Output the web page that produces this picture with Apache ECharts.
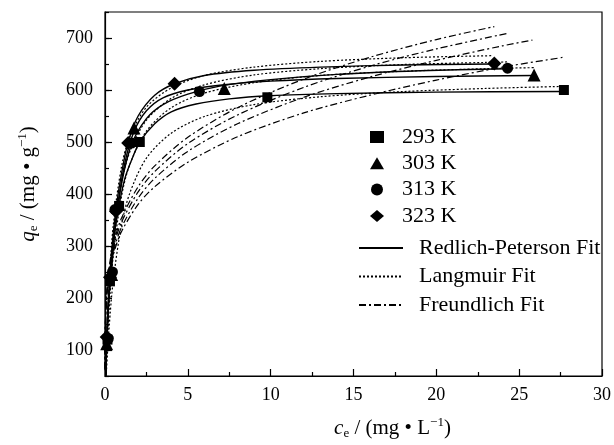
<!DOCTYPE html>
<html lang="en">
<head>
    <meta charset="UTF-8">
    <title>qe vs ce isotherms</title>
    <script src="https://cdn.jsdelivr.net/npm/echarts@6/dist/echarts.min.js"></script>
    <style>
        html, body { margin: 0; padding: 0; background: #fff; }
        #chart { width: 614px; height: 445px; }
    </style>
</head>
<body>
<div id="chart"></div>
<script>
    'use strict';
    // experimental points [ce, qe]
    let pts293 = [[0.15, 120], [0.3, 232], [0.85, 377], [2.1, 500], [9.8, 586], [27.7, 600]];
    let pts303 = [[0.1, 112], [0.4, 245], [0.8, 380], [1.75, 527], [7.2, 603], [25.9, 629]];
    let pts313 = [[0.2, 122], [0.45, 250], [0.6, 370], [1.6, 498], [5.7, 597], [24.3, 642]];
    let pts323 = [[0.1, 125], [0.3, 240], [0.66, 367], [1.4, 498], [4.2, 612], [23.5, 651]];

    // Redlich-Peterson fit curves
    let rp293 = [[0.04, 45], [0.1, 105], [0.2, 175], [0.3, 230], [0.5, 305], [0.8, 370], [1.2, 430], [1.6, 465], [2.1, 500], [3, 535], [4, 558], [5.5, 573], [7.5, 583], [10, 589], [14, 593], [20, 596], [27.7, 597]];
    let rp303 = [[0.04, 48], [0.1, 110], [0.2, 185], [0.35, 250], [0.5, 310], [0.8, 385], [1.2, 460], [1.75, 520], [2.5, 560], [3.5, 585], [5, 600], [7.2, 610], [10, 617], [14, 622], [20, 626], [25.9, 628]];
    let rp313 = [[0.04, 48], [0.1, 112], [0.2, 190], [0.4, 255], [0.6, 330], [1, 420], [1.6, 495], [2.5, 545], [3.5, 572], [5, 592], [7, 608], [10, 620], [14, 630], [19, 637], [24.3, 641]];
    let rp323 = [[0.04, 50], [0.1, 115], [0.2, 195], [0.4, 290], [0.66, 370], [1, 440], [1.4, 500], [2, 550], [3, 590], [4.2, 612], [6, 628], [9, 638], [13, 644], [18, 648], [23.4, 650]];

    // Langmuir fit curves
    let lang293 = [[0.08, 55], [0.1, 67], [0.25, 144], [0.5, 234], [1, 341], [1.5, 402], [2.5, 469], [4, 517], [6, 549], [9, 572], [13, 587], [18, 597], [23, 603], [27.7, 607]];
    let lang303 = [[0.06, 54], [0.1, 86], [0.25, 180], [0.5, 283], [1, 396], [1.5, 457], [2.5, 521], [4, 566], [6, 594], [9, 614], [13, 628], [18, 636], [23, 641], [25.9, 643]];
    let lang313 = [[0.05, 52], [0.1, 97], [0.25, 200], [0.5, 308], [1, 422], [1.5, 481], [2.5, 542], [4, 584], [6, 610], [9, 629], [13, 641], [18, 649], [23, 653], [24.3, 654]];
    let lang323 = [[0.04, 50], [0.1, 113], [0.25, 227], [0.5, 340], [1, 453], [1.5, 510], [2.5, 567], [4, 604], [6, 628], [9, 644], [13, 655], [18, 662], [23.4, 666]];

    // Freundlich fit curves
    let fr293 = [[0.0005, 65], [0.005, 107], [0.02, 143], [0.1, 201], [0.3, 254], [0.6, 294], [1, 328], [2, 380], [3, 414], [5, 461], [8, 510], [12, 556], [16, 590], [20, 619], [24, 644], [27.7, 663]];
    let fr303 = [[0.0005, 61], [0.005, 102], [0.02, 140], [0.1, 201], [0.3, 256], [0.6, 300], [1, 336], [2, 392], [3, 430], [5, 482], [8, 535], [12, 586], [16, 625], [20, 657], [24, 685], [25.8, 696]];
    let fr313 = [[0.0005, 63], [0.005, 105], [0.02, 144], [0.1, 206], [0.3, 264], [0.6, 308], [1, 346], [2, 404], [3, 443], [5, 497], [8, 552], [12, 605], [16, 646], [20, 679], [24.3, 709]];
    let fr323 = [[0.0005, 64], [0.005, 107], [0.02, 146], [0.1, 210], [0.3, 270], [0.6, 315], [1, 354], [2, 414], [3, 454], [5, 509], [8, 566], [12, 621], [16, 663], [20, 697], [23.5, 722]];

    let pointNames = ['293 K', '303 K', '313 K', '323 K'];
    let pointSets = [pts293, pts303, pts313, pts323];
    let pointSymbols = ['rect', 'triangle', 'circle', 'diamond'];
    let pointSizes = [10, 13, 11, 14];

    let fitNames = ['Redlich-Peterson Fit', 'Langmuir Fit', 'Freundlich Fit'];
    let fitSets = [[rp293, rp303, rp313, rp323], [lang293, lang303, lang313, lang323], [fr293, fr303, fr313, fr323]];
    let fitDash = ['solid', [2, 2], [7, 3, 2, 3]];
    let fitWidth = [1.4, 1.2, 1.2];

    const FONT = 'Liberation Serif';

    let series = [];
    for (let k = 0; k < fitSets.length; k++) {
        for (let j = 0; j < fitSets[k].length; j++) {
            series.push({
                name: fitNames[k],
                type: 'line',
                data: fitSets[k][j],
                smooth: 0.3,
                showSymbol: false,
                symbol: 'none',
                clip: true,
                lineStyle: {color: '#000', width: fitWidth[k], type: fitDash[k]},
                itemStyle: {color: '#000'},
                z: 2
            });
        }
    }
    for (let i = 0; i < pointSets.length; i++) {
        series.push({
            name: pointNames[i],
            type: 'scatter',
            data: pointSets[i],
            symbol: pointSymbols[i],
            symbolSize: pointSizes[i],
            itemStyle: {color: '#000', opacity: 1},
            z: 5
        });
    }

    let richName = {
        i: {fontFamily: FONT, fontSize: 21, fontStyle: 'italic', color: '#000'},
        n: {fontFamily: FONT, fontSize: 21, color: '#000'},
        sub: {fontFamily: FONT, fontSize: 13, color: '#000', padding: [11, 0, 0, 0]},
        sup: {fontFamily: FONT, fontSize: 13, color: '#000', padding: [0, 0, 11, 0]}
    };

    let option = {
        animation: false,
        backgroundColor: '#fff',
        grid: {left: 105, top: 12, right: 11, bottom: 68, show: true, borderColor: '#000', borderWidth: 1.2},
        legend: [{
            data: pointNames,
            orient: 'vertical',
            left: 365, top: 121,
            itemWidth: 14, itemHeight: 12, itemGap: 4.3,
            textStyle: {fontFamily: FONT, fontSize: 22, color: '#000', lineHeight: 22, padding: [0, 0, 0, 13]}
        }, {
            data: fitNames,
            orient: 'vertical',
            left: 353, top: 232,
            itemWidth: 44, itemHeight: 12, itemGap: 6.5,
            itemStyle: {opacity: 0},
            textStyle: {fontFamily: FONT, fontSize: 22, color: '#000', lineHeight: 22, padding: [0, 0, 0, 11]}
        }],
        xAxis: {
            type: 'value',
            min: 0, max: 30, interval: 5,
            name: '{i|c}{sub|e}{n| / (mg • L}{sup|−1}{n|)}',
            nameLocation: 'middle',
            nameGap: 40,
            nameTextStyle: {rich: richName, padding: [0, 0, 0, 78]},
            axisLine: {lineStyle: {color: '#000', width: 1.2}},
            axisTick: {inside: true, length: 7, lineStyle: {color: '#000', width: 1.2}},
            minorTick: {show: true, splitNumber: 2, length: 4, lineStyle: {color: '#000', width: 1.2}},
            axisLabel: {fontFamily: FONT, fontSize: 18, color: '#000', margin: 10},
            splitLine: {show: false}
        },
        yAxis: [{
            type: 'value',
            min: 50, max: 750, interval: 50,
            axisLine: {lineStyle: {color: '#000', width: 1.2}},
            axisTick: {inside: true, length: 4, lineStyle: {color: '#000', width: 1.2}},
            axisLabel: {show: false},
            splitLine: {show: false}
        }, {
            type: 'value',
            min: 50, max: 750, splitNumber: 7,
            position: 'left',
            name: '{i|q}{sub|e}{n| / (mg • g}{sup|−1}{n|)}',
            nameLocation: 'middle',
            nameGap: 65,
            nameTextStyle: {rich: richName, padding: [0, 0, 0, 20]},
            axisLine: {show: false},
            axisTick: {inside: true, length: 7, lineStyle: {color: '#000', width: 1.2}},
            axisLabel: {fontFamily: FONT, fontSize: 18, color: '#000', margin: 12, showMinLabel: false, showMaxLabel: false},
            splitLine: {show: false}
        }],
        series: series
    };

    let myChart = echarts.init(document.getElementById('chart'));
    myChart.setOption(option);
</script>
</body>
</html>
